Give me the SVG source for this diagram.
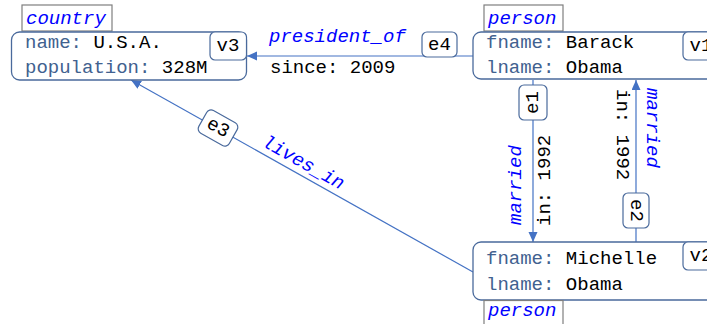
<svg xmlns="http://www.w3.org/2000/svg" width="707" height="324" viewBox="0 0 707 324">
<defs>
<style>
.node{fill:#fff;stroke:#4a6a9c;stroke-width:1.3}
.tag{fill:#fff;stroke:#7f7f7f;stroke-width:1.2}
.ebox{fill:#fff;stroke:#4a6a9c;stroke-width:1.2}
.t{font-family:"Liberation Mono","DejaVu Sans Mono",monospace;font-size:19px;fill:#000}
.k{fill:#41618f}
.lab{font-family:"Liberation Mono","DejaVu Sans Mono",monospace;font-size:19px;font-style:italic;fill:#0000ff}
.edge{stroke:#4472c4;stroke-width:1.2;fill:none;marker-end:url(#arr)}
.mid{text-anchor:middle;dominant-baseline:central}
</style>
<marker id="arr" markerUnits="userSpaceOnUse" markerWidth="11" markerHeight="10" refX="10" refY="4.5" orient="auto">
<path d="M0,0 L10,4.5 L0,9 z" fill="#4472c4"/>
</marker>
</defs>
<rect width="707" height="324" fill="#fff"/>

<g id="connectors">
<g id="e4">
<path class="edge" d="M473,56 L247,56"/>
<text class="lab" x="269" y="42">president_of</text>
<text class="t" x="270" y="73">since: 2009</text>
<rect class="ebox" x="422" y="32" width="35" height="25" rx="5"/>
<text class="t mid" x="439.5" y="44.5">e4</text>
</g>
<g id="e1">
<path class="edge" d="M533,80 L533,242"/>
<rect class="ebox" x="519" y="85" width="28" height="35" rx="5"/>
<text class="t mid" transform="translate(533,102.5) rotate(-90)">e1</text>
<text class="t" transform="translate(550,226) rotate(-90)">in: 1992</text>
<text class="lab" transform="translate(521,225) rotate(-90)">married</text>
</g>
<g id="e2">
<path class="edge" d="M636,242 L636,80"/>
<rect class="ebox" x="623" y="193" width="26" height="35" rx="5"/>
<text class="t mid" transform="translate(636,210.5) rotate(90)">e2</text>
<text class="t" transform="translate(617,89) rotate(90)">in: 1992</text>
<text class="lab" transform="translate(647,88) rotate(90)">married</text>
</g>
<g id="e3">
<path class="edge" d="M473,272 L131,80"/>
<g transform="translate(218,128) rotate(29.3)">
<rect class="ebox" x="-17.5" y="-13" width="35" height="26" rx="5"/>
<text class="t mid" x="0" y="0">e3</text>
</g>
<text class="lab" text-anchor="middle" transform="translate(300.5,167.5) rotate(29.3)">lives_in</text>
</g>
</g>

<g id="v3">
<rect class="tag" x="22" y="5" width="90" height="26"/>
<text class="lab" x="26" y="23.5">country</text>
<rect class="node" x="11.5" y="32" width="235" height="48" rx="8"/>
<text class="t" x="25" y="48"><tspan class="k">name:</tspan> U.S.A.</text>
<text class="t" x="25" y="72.5"><tspan class="k">population:</tspan> 328M</text>
<rect class="ebox" x="210" y="32" width="36.5" height="28" rx="5"/>
<text class="t mid" x="228" y="46">v3</text>
</g>

<g id="v1">
<rect class="tag" x="484" y="5" width="79" height="26"/>
<text class="lab" x="488" y="23.5">person</text>
<rect class="node" x="473" y="32" width="246" height="47" rx="8"/>
<text class="t" x="486" y="48"><tspan class="k">fname:</tspan> Barack</text>
<text class="t" x="486" y="72.5"><tspan class="k">lname:</tspan> Obama</text>
<rect class="ebox" x="683" y="32" width="36" height="28" rx="5"/>
<text class="t mid" x="701" y="46">v1</text>
</g>

<g id="v2">
<rect class="node" x="473" y="242" width="246" height="58" rx="8"/>
<text class="t" x="486" y="263.5"><tspan class="k">fname:</tspan> Michelle</text>
<text class="t" x="486" y="289.5"><tspan class="k">lname:</tspan> Obama</text>
<rect class="ebox" x="683" y="242" width="36" height="28" rx="5"/>
<text class="t mid" x="701" y="256">v2</text>
<rect class="tag" x="484" y="300.5" width="79" height="26"/>
<text class="lab" x="488" y="316">person</text>
</g>
</svg>
